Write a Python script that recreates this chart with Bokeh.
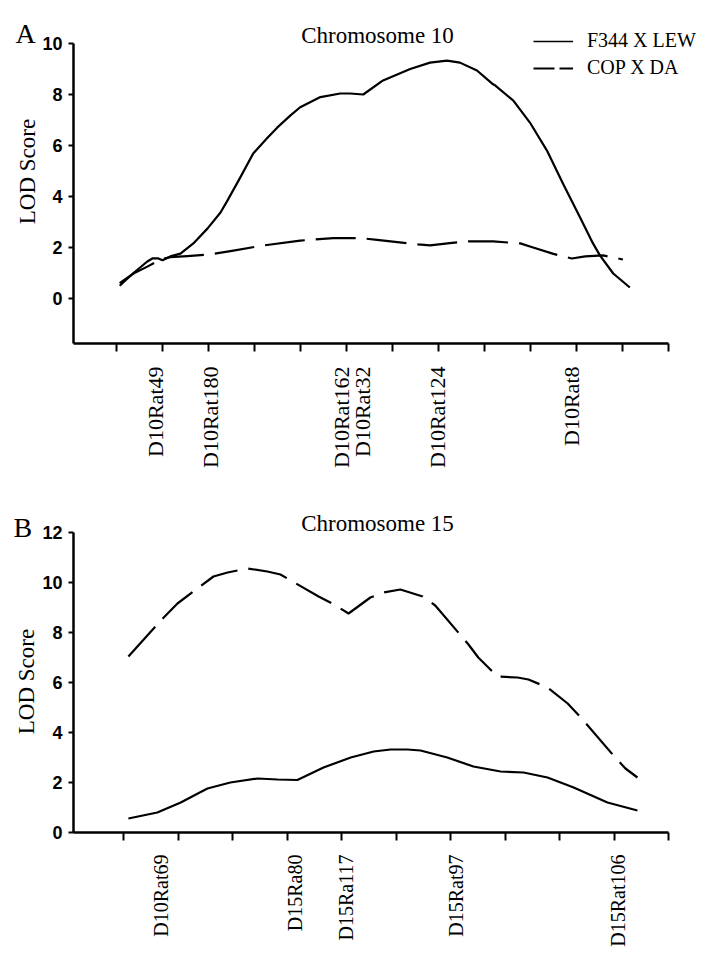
import math
from bokeh.plotting import figure
from bokeh.models import FixedTicker, Range1d, Label, Legend, LegendItem
from bokeh.layouts import column
from bokeh.embed import file_html
from bokeh.resources import INLINE

# ---------------- data: Chromosome 10 (panel A) ----------------
a_f344_x = [1.08, 1.38, 1.68, 1.79, 1.92, 2.01, 2.18, 2.40, 2.68, 2.99, 3.27, 3.42, 3.70, 3.98,
            4.29, 4.50, 4.79, 5.00, 5.44, 5.87, 6.09, 6.37, 6.80, 7.39, 7.82, 8.19, 8.47, 8.84,
            9.19, 9.24, 9.63, 9.99, 10.36, 10.71, 11.08, 11.36, 11.51, 11.80, 12.16]
a_f344_y = [0.50, 1.00, 1.45, 1.57, 1.57, 1.50, 1.65, 1.76, 2.16, 2.75, 3.37, 3.84, 4.75, 5.69,
            6.30, 6.70, 7.18, 7.50, 7.90, 8.04, 8.04, 8.00, 8.55, 9.00, 9.25, 9.33, 9.25, 8.94,
            8.40, 8.35, 7.76, 6.90, 5.80, 4.50, 3.18, 2.16, 1.69, 0.98, 0.43]
a_cop_x = [1.08, 1.38, 1.68, 1.97, 2.18, 2.55, 3.05, 3.55, 4.20, 5.00, 5.72, 6.31, 6.67, 7.56,
           7.82, 8.30, 8.65, 9.19, 9.78, 10.06, 10.50, 10.90, 11.19, 11.58, 12.01]
a_cop_y = [0.60, 0.98, 1.25, 1.53, 1.62, 1.66, 1.73, 1.88, 2.08, 2.27, 2.37, 2.37, 2.30, 2.12,
           2.08, 2.18, 2.24, 2.24, 2.16, 2.00, 1.75, 1.57, 1.65, 1.69, 1.53]
a_tick_pos = list(range(1, 14))
a_marker_pos = [1.86, 3.05, 5.89, 6.35, 7.98, 10.89]
a_marker_labels = ["D10Rat49", "D10Rat180", "D10Rat162", "D10Rat32", "D10Rat124", "D10Rat8"]
a_yticks = [0, 2, 4, 6, 8, 10]

# ---------------- data: Chromosome 15 (panel B) ----------------
b_f344_x = [1.09, 1.62, 2.05, 2.54, 2.96, 3.46, 3.83, 4.19, 4.67, 5.17, 5.59, 5.90, 6.21, 6.45,
            6.94, 7.42, 7.92, 8.34, 8.78, 9.26, 9.88, 10.43]
b_f344_y = [0.56, 0.80, 1.20, 1.76, 2.00, 2.16, 2.12, 2.10, 2.60, 3.00, 3.24, 3.32, 3.32, 3.28,
            3.00, 2.64, 2.44, 2.40, 2.20, 1.80, 1.20, 0.88]
b_cop_x = [1.09, 1.72, 1.99, 2.65, 2.91, 3.28, 3.64, 3.88, 4.58, 4.83, 5.13, 5.53, 5.77, 6.08,
           6.49, 6.72, 7.33, 7.51, 7.86, 8.23, 8.43, 8.78, 9.15, 9.39, 9.99, 10.21, 10.43]
b_cop_y = [7.04, 8.56, 9.16, 10.24, 10.40, 10.56, 10.44, 10.32, 9.44, 9.16, 8.76, 9.40, 9.60, 9.72,
           9.44, 9.08, 7.52, 7.00, 6.24, 6.20, 6.12, 5.80, 5.16, 4.60, 3.08, 2.56, 2.20]
b_tick_pos = list(range(1, 12))
b_marker_pos = [1.68, 4.14, 5.09, 7.11, 10.08]
b_marker_labels = ["D10Rat69", "D15Ra80", "D15Ra117", "D15Rat97", "D15Rat106"]
b_yticks = [0, 2, 4, 6, 8, 10, 12]

series_names = ["F344 X LEW", "COP X DA"]

SERIF = "Liberation Serif"
SANS = "Liberation Sans"
DASH = "40 11"
W = 710
H = 476


def mapper(p0, d0, p1, d1):
    k = (d1 - d0) / (p1 - p0)
    return lambda px: d0 + (px - p0) * k


def make_panel(fx, fy, axis_left_px, axis_bottom_px, x_end, y_top,
               f_x, f_y, c_x, c_y, tick_pos, marker_pos, marker_labels, yticks,
               label_size, standoff):
    p = figure(width=W, height=H, output_backend="svg", toolbar_location=None,
               x_range=Range1d(fx(0), fx(W)), y_range=Range1d(fy(H), fy(0)),
               min_border=0)
    p.outline_line_color = None
    p.grid.visible = False
    p.background_fill_color = "white"
    p.border_fill_color = "white"

    p.line(f_x, f_y, line_color="black", line_width=2.2, line_join="round")
    p.line(c_x, c_y, line_color="black", line_width=2.2, line_join="round", line_dash=DASH)

    x0 = fx(axis_left_px)
    y0 = fy(axis_bottom_px)

    xa = p.xaxis[0]
    xa.fixed_location = y0
    xa.bounds = (x0, x_end)
    xa.ticker = FixedTicker(ticks=marker_pos, minor_ticks=tick_pos)
    xa.major_label_overrides = {pos: lab for pos, lab in zip(marker_pos, marker_labels)}
    xa.major_label_orientation = math.pi / 2
    xa.major_tick_out = 0
    xa.major_tick_in = 0
    xa.major_tick_line_color = None
    xa.minor_tick_out = 8
    xa.minor_tick_in = 0
    xa.minor_tick_line_width = 2
    xa.minor_tick_line_color = "black"
    xa.axis_line_width = 2.5
    xa.axis_line_color = "black"
    xa.major_label_standoff = standoff
    xa.major_label_text_font = SERIF
    xa.major_label_text_font_size = label_size
    xa.major_label_text_color = "black"

    ya = p.yaxis[0]
    ya.fixed_location = x0
    ya.bounds = (y0, y_top)
    ya.ticker = FixedTicker(ticks=yticks)
    ya.major_tick_out = 5
    ya.major_tick_in = 0
    ya.major_tick_line_width = 2
    ya.minor_tick_out = 0
    ya.minor_tick_in = 0
    ya.axis_line_width = 2.5
    ya.axis_line_color = "black"
    ya.major_label_standoff = 6
    ya.major_label_text_font = SANS
    ya.major_label_text_font_style = "bold"
    ya.major_label_text_font_size = "18px"
    ya.major_label_text_color = "black"
    return p


def add_text(p, fx, fy, px, py, text, size, align="center", baseline="alphabetic", angle=0.0):
    p.add_layout(Label(x=fx(px), y=fy(py), text=text, text_font=SERIF, text_font_size=size,
                       text_align=align, text_baseline=baseline, angle=angle,
                       text_color="black"))


# ---------------- panel A (pixel anchors local to the figure) ----------------
fxa = mapper(115.5, 1, 668, 13)
fya = mapper(298, 0, 43, 10)
pa = make_panel(fxa, fya, 73, 343, 13, 10, a_f344_x, a_f344_y, a_cop_x, a_cop_y,
                a_tick_pos, a_marker_pos, a_marker_labels, a_yticks, "22px", 15)
add_text(pa, fxa, fya, 377, 35, "Chromosome 10", "23px")
add_text(pa, fxa, fya, 15, 33, "A", "28px", align="left")
add_text(pa, fxa, fya, 27, 171, "LOD Score", "23px", baseline="middle", angle=math.pi / 2)

# legend samples: renderers holding a single NaN point, so only the legend shows them
nan = float("nan")
leg_solid = pa.line([nan], [nan], line_color="black", line_width=1.3)
leg_dash = pa.line([nan], [nan], line_color="black", line_width=2.2, line_dash="21 5")
legend = Legend(items=[LegendItem(label=series_names[0], renderers=[leg_solid]),
                       LegendItem(label=series_names[1], renderers=[leg_dash])],
                location=(533, H - 79), glyph_width=40, glyph_height=20, label_height=20,
                label_standoff=14, spacing=4, padding=0, margin=0,
                border_line_color=None, background_fill_alpha=0,
                label_text_font=SERIF, label_text_font_size="20px",
                label_text_color="black")
pa.add_layout(legend)

# ---------------- panel B (figure starts at page y = 476) ----------------
fxb = mapper(123, 1, 668, 11)
fyb = mapper(832 - H, 0, 532 - H, 12)
pb = make_panel(fxb, fyb, 73, 832 - H, 11, 12, b_f344_x, b_f344_y, b_cop_x, b_cop_y,
                b_tick_pos, b_marker_pos, b_marker_labels, b_yticks, "20px", 14)
add_text(pb, fxb, fyb, 377, 523 - H, "Chromosome 15", "23px")
add_text(pb, fxb, fyb, 13, 527 - H, "B", "28px", align="left")
add_text(pb, fxb, fyb, 26, 681 - H, "LOD Score", "23px", baseline="middle", angle=math.pi / 2)

layout = column(pa, pb, spacing=0)
open("out.html", "w").write(file_html(layout, INLINE))
